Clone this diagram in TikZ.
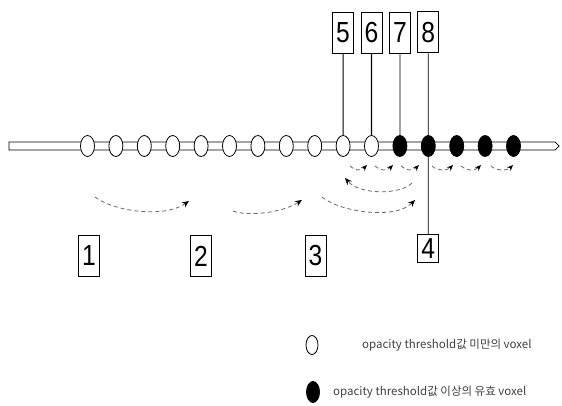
\documentclass[tikz,border=0pt]{standalone}
\usepackage{fontspec}
\usepackage{graphicx}
\setmainfont{Liberation Sans}
\newfontfamily\krfont{Noto Sans CJK KR}
\usetikzlibrary{arrows.meta,shapes.geometric}
\begin{document}
\begin{tikzpicture}[x=1pt,y=-1pt,
  vox/.style={ellipse, draw, line width=0.8pt, minimum width=14pt, minimum height=21pt, inner sep=0pt},
  whitevox/.style={vox, fill=white},
  blackvox/.style={vox, fill=black},
  numbox/.style={draw, line width=0.7pt, minimum width=21pt, minimum height=41pt, inner sep=0pt, font=\fontsize{29}{29}\selectfont},
  conn/.style={line width=0.8pt},
  jump/.style={dash pattern=on 4pt off 3pt, draw=black!60, line width=0.8pt, -{Stealth[length=7pt,width=6pt,color=black]}},
  legendtext/.style={anchor=west, font=\krfont\fontsize{11.5}{13}\selectfont, text=black!75, inner sep=0pt}
]
\useasboundingbox (0,0) rectangle (562,406);

% axis
\draw[line width=0.7pt] (9,142) -- (555,142) -- (559,146) -- (555,150) -- (9,150) -- cycle;

% voxels
\foreach \i in {0,...,10} \node[whitevox] (e\i) at ({87.5+28.4*\i},146) {};
\foreach \i in {11,...,15} \node[blackvox] (e\i) at ({87.5+28.4*\i},146) {};

% top boxes
\node[numbox] (b5) at (343.1,32.5) {\scalebox{0.85}[1]{5}};
\node[numbox] (b6) at (371.5,32.5) {\scalebox{0.85}[1]{6}};
\node[numbox] (b7) at (399.9,32.5) {\scalebox{0.85}[1]{7}};
\node[numbox, line width=1pt] (b8) at (428.3,32.5) {\scalebox{0.85}[1]{8}};

\draw[conn] (b5.south) -- (e9.north);
\draw[conn, line width=1.2pt] (b6.south) -- (e10.north);
\draw[conn] (b7.south) -- (e11.north);
\draw[conn] (b8.south) -- (e12.north);

% bottom boxes
\node[numbox] (b1) at (89,256) {\scalebox{0.85}[1]{1}};
\node[numbox] (b2) at (201,256) {\scalebox{0.85}[1]{2}};
\node[numbox] (b3) at (315.5,256) {\scalebox{0.85}[1]{3}};
\node[numbox, minimum height=28pt] (b4) at (428.3,248.5) {\scalebox{0.85}[1]{4}};
\draw[conn] (e12.south) -- (b4.north);

% jump arrows
\coordinate (a1s) at (95,197);  \coordinate (a1e) at (189,201);
\coordinate (a2s) at (233,211); \coordinate (a2e) at (302,200);
\coordinate (a3s) at (322,197); \coordinate (a3e) at (415,200);
\coordinate (a4s) at (412,183); \coordinate (a4e) at (345,178);
\draw[jump] (a1s) .. controls (115,212) and (165,218) .. (a1e);
\draw[jump] (a2s) .. controls (245,216) and (280,214) .. (a2e);
\draw[jump] (a3s) .. controls (340,212) and (395,220) .. (a3e);
\draw[jump] (a4s) .. controls (400,195) and (360,195) .. (a4e);

% small step arrows
\foreach \xa/\xb [count=\k] in {350/367, 375/393, 401/419, 432/453, 461/481, 491/513} {
  \coordinate (s\k) at (\xa,166);
  \coordinate (t\k) at (\xb,165);
  \draw[jump, -{Stealth[length=6pt,width=5pt,color=black]}] (s\k) .. controls ({\xa+5},171) and ({\xb-6},171) .. (t\k);
}

% legend
\node[whitevox, minimum width=12pt, minimum height=19pt] (lw) at (312,345) {};
\node[legendtext] (lt1) at (362,345) {opacity threshold값 미만의 voxel};
\node[blackvox, minimum width=13pt, minimum height=21pt] (lb) at (313,392) {};
\node[legendtext] (lt2) at (333,392) {opacity threshold값 이상의 유효 voxel};
\end{tikzpicture}
\end{document}
